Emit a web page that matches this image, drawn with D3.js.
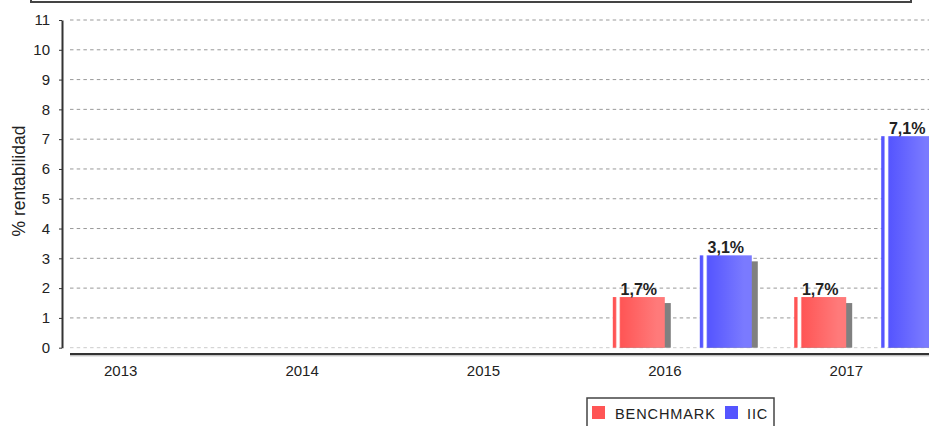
<!DOCTYPE html>
<html>
<head>
<meta charset="utf-8">
<script src="https://d3js.org/d3.v7.min.js"></script>
<style>
    body { margin: 0; background: #fff; }
    text { font-family: "Liberation Sans", Arial, sans-serif; fill: #222; }
    .tick text { font-size: 15px; }
    .grid line { stroke: #999; stroke-dasharray: 3.5 3.2; }
</style>
</head>
<body>
<div id="chart"></div>
<script>
// data
const years = ["2013", "2014", "2015", "2016", "2017"];
const series = ["BENCHMARK", "IIC"];
const benchmark = [null, null, null, 1.7, 1.7];
const iic = [null, null, null, 3.1, 7.1];
const yTicks = [0, 1, 2, 3, 4, 5, 6, 7, 8, 9, 10, 11];

const colors = { BENCHMARK: "#ff5555", IIC: "#5555ff" };
const lighter = { BENCHMARK: "#ff7a7a", IIC: "#7a7aff" };

const W = 929, H = 426;
const plotLeft = 70, plotTop = 20, plotBottom = 347.7;

const svg = d3.select("#chart").append("svg")
    .attr("width", W).attr("height", H);

// gradients like the java bar painter
const defs = svg.append("defs");
series.forEach(s => {
    const g = defs.append("linearGradient").attr("id", "grad" + s)
        .attr("x1", "0%").attr("x2", "100%").attr("y1", "0%").attr("y2", "0%");
    g.append("stop").attr("offset", "0%").attr("stop-color", colors[s]);
    g.append("stop").attr("offset", "5%").attr("stop-color", colors[s]);
    g.append("stop").attr("offset", "8%").attr("stop-color", "#fff");
    g.append("stop").attr("offset", "12%").attr("stop-color", "#fff");
    g.append("stop").attr("offset", "15%").attr("stop-color", colors[s]);
    g.append("stop").attr("offset", "85%").attr("stop-color", lighter[s]);
    g.append("stop").attr("offset", "100%").attr("stop-color", lighter[s]);
});

// top box (cut off)
svg.append("rect")
    .attr("x", 31).attr("y", -20).attr("width", 880).attr("height", 22)
    .attr("fill", "none").attr("stroke", "#444").attr("stroke-width", 2);

const x = d3.scaleBand().domain(years).range([30, 937]);
const x1 = d3.scaleBand().domain(series)
    .range([38.6, 177.6]).paddingInner(35 / 87);
const y = d3.scaleLinear().domain([0, 11]).range([plotBottom, plotTop]);

// gridlines
svg.append("g").attr("class", "grid")
    .selectAll("line").data(yTicks).join("line")
    .attr("x1", plotLeft).attr("x2", W)
    .attr("y1", d => y(d)).attr("y2", d => y(d))
    .attr("stroke-width", 1)
    .style("stroke", d => d === 0 ? "#ccc" : "#999");

// y axis
const yAxis = svg.append("g")
    .attr("transform", "translate(62,0)")
    .call(d3.axisLeft(y).tickValues(yTicks).tickSize(3).tickSizeOuter(0).tickPadding(9));
yAxis.select(".domain").attr("stroke", "#333").attr("stroke-width", 2);
yAxis.selectAll(".tick line").attr("stroke", "#333");

// x axis
const xAxis = svg.append("g")
    .attr("transform", `translate(0,${354})`)
    .call(d3.axisBottom(x).tickSize(0).tickPadding(11));
xAxis.select(".domain").remove();
svg.append("line").attr("x1", plotLeft).attr("x2", W).attr("y1", 354).attr("y2", 354)
    .attr("stroke", "#333").attr("stroke-width", 2);
svg.append("line").attr("x1", plotLeft).attr("x2", W).attr("y1", 355.8).attr("y2", 355.8)
    .attr("stroke", "#aaa").attr("stroke-width", 1);

// y title
svg.append("text")
    .attr("transform", "translate(25,181) rotate(-90)")
    .attr("text-anchor", "middle")
    .style("font-size", "17.5px")
    .text("% rentabilidad");

// bars
const rows = [];
years.forEach((yr, i) => {
    if (benchmark[i] != null) rows.push({ year: yr, s: "BENCHMARK", v: benchmark[i] });
    if (iic[i] != null) rows.push({ year: yr, s: "IIC", v: iic[i] });
});

const bw = x1.bandwidth();
const bars = svg.append("g");

// shadows
bars.selectAll(".shadow").data(rows).join("rect")
    .attr("class", "shadow")
    .attr("x", d => x(d.year) + x1(d.s) + 6)
    .attr("y", d => y(d.v) + 6)
    .attr("width", bw)
    .attr("height", d => plotBottom - y(d.v) - 6)
    .attr("fill", "#808080");

bars.selectAll(".bar").data(rows).join("rect")
    .attr("class", "bar")
    .attr("x", d => x(d.year) + x1(d.s))
    .attr("y", d => y(d.v))
    .attr("width", bw)
    .attr("height", d => plotBottom - y(d.v))
    .attr("fill", d => `url(#grad${d.s})`);

// value labels
bars.selectAll(".val").data(rows).join("text")
    .attr("class", "val")
    .attr("x", d => x(d.year) + x1(d.s) + bw / 2)
    .attr("y", d => y(d.v) - 2)
    .attr("text-anchor", "middle")
    .style("font-size", "16px")
    .style("font-weight", "bold")
    .text(d => d3.format(".1f")(d.v).replace(".", ",") + "%");

// legend
const lg = svg.append("g").attr("transform", "translate(587,398)");
lg.append("rect").attr("width", 187).attr("height", 40)
    .attr("fill", "#fff").attr("stroke", "#444").attr("stroke-width", 1.5);
const items = [{ s: "BENCHMARK", x: 5, tx: 28 }, { s: "IIC", x: 138, tx: 160 }];
items.forEach(it => {
    lg.append("rect").attr("x", it.x).attr("y", 8).attr("width", 13).attr("height", 13)
        .attr("fill", colors[it.s]);
    lg.append("text").attr("x", it.tx).attr("y", 20.5)
        .style("font-size", "14.5px").style("letter-spacing", "0.9px").text(it.s);
});
</script>
</body>
</html>
